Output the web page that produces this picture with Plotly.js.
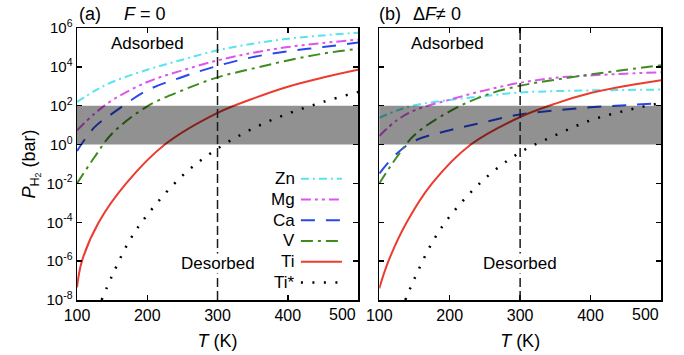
<!DOCTYPE html>
<html><head><meta charset="utf-8">
<script src="https://cdn.plot.ly/plotly-3.0.1.min.js"></script>
<style>html,body{margin:0;padding:0;background:#fff}#chart{width:684px;height:355px}</style>
</head><body><div id="chart"></div>
<script>
// ---------- data (log10 of P_H2 in bar) ----------
const names = ['Zn','Mg','Ca','V','Ti','Ti*'];
const T_grid = [100,125,150,200,250,300,350,400,450,500];

// panel (a)  F = 0
const a_Zn = [2.19,2.76,3.22,3.85,4.37,4.85,5.19,5.45,5.62,5.76];
const a_Mg = [0.73,1.59,2.28,3.22,3.82,4.33,4.72,5.02,5.23,5.40];
const a_Ca = [-0.33,0.90,1.59,2.79,3.48,4.05,4.50,4.80,5.02,5.25];
const a_V  = [-2.0,-0.64,0.57,1.97,2.79,3.46,3.91,4.33,4.68,4.93];
const T_a_Ti  = [100,107,131,170,225,300,350,400,450,500];
const a_Ti    = [-7.35,-6.0,-4.0,-2.0,0.0,1.63,2.36,2.98,3.45,3.85];
const T_a_TiS = [135,150,175,200,250,300,350,400,450,500];
const a_TiS   = [-8.0,-6.75,-4.92,-3.62,-1.6,-0.21,0.82,1.59,2.19,2.71];

// panel (b)  ΔF ≠ 0
const b_Zn = [1.38,1.75,2.02,2.30,2.50,2.68,2.75,2.79,2.81,2.83];
const b_Mg = [0.44,1.25,1.76,2.31,2.79,3.18,3.44,3.56,3.65,3.72];
const b_Ca = [-1.49,-0.46,0.19,0.74,1.16,1.55,1.76,1.92,2.03,2.12];
const b_V  = [-2.0,-0.64,0.49,1.71,2.53,3.03,3.34,3.61,3.85,4.08];
const T_b_Ti  = [100,113,139,175,230,300,350,400,450,500];
const b_Ti    = [-7.4,-6.0,-4.0,-2.0,0.0,1.42,2.11,2.65,3.02,3.31];
const T_b_TiS = [137,150,175,200,250,300,350,400,450,500];
const b_TiS   = [-8.0,-6.9,-5.05,-3.7,-1.75,-0.4,0.48,1.25,1.75,2.14];

const bandLow = 1, bandHigh = 100;   // bar
const T_room = 300;                   // K
const xTicks = [100,200,300,400,500];
const yTickExp = [-8,-6,-4,-2,0,2,4,6];

// ---------- styles ----------
const styles = {
  'Zn':  {color:'#58e4ee', dash:'8px,4px,2px,4px', width:2},
  'Mg':  {color:'#dc55ee', dash:'10px,4px,3px,4px,3px,4px', width:2},
  'Ca':  {color:'#2848ee', dash:'14px,11px', width:2},
  'V':   {color:'#3e8c1e', dash:'12px,5px,3px,5px', width:2},
  'Ti':  {color:'#ec3b2f', dash:'solid', width:2},
  'Ti*': {color:'#000000', dash:'2px,9.5px', width:2.5}
};

const toP = arr => arr.map(v => Math.pow(10, v));
const panelA = {Zn:[T_grid,a_Zn], Mg:[T_grid,a_Mg], Ca:[T_grid,a_Ca], V:[T_grid,a_V], Ti:[T_a_Ti,a_Ti], 'Ti*':[T_a_TiS,a_TiS]};
const panelB = {Zn:[T_grid,b_Zn], Mg:[T_grid,b_Mg], Ca:[T_grid,b_Ca], V:[T_grid,b_V], Ti:[T_b_Ti,b_Ti], 'Ti*':[T_b_TiS,b_TiS]};

const traces = [];
[[panelA,'x','y'],[panelB,'x2','y2']].forEach(([panel,xa,ya]) => {
  names.forEach(n => {
    const s = styles[n];
    traces.push({x: panel[n][0], y: toP(panel[n][1]), xaxis: xa, yaxis: ya,
      type:'scatter', mode:'lines', name:n, showlegend:false, hoverinfo:'skip',
      line:{color:s.color, dash:s.dash, width:s.width, shape:'spline', smoothing:1}});
  });
});

const FONT = '"Liberation Sans", Arial, Helvetica, sans-serif';
const axBase = {showline:true, linecolor:'#000', linewidth:1.5, mirror:'allticks',
  ticks:'inside', ticklen:5, tickwidth:1.5, tickcolor:'#000', showgrid:false, zeroline:false};

const yTickVals = yTickExp.map(e => Math.pow(10, e));
const yTickText = yTickExp.map(e => '10<sup>' + e + '</sup>');

const L = 77.3, R = 23.2, Tm = 27.6, B = 55;
const plotW = 684 - L - R;
const px2x = px => (px - L) / plotW;
const py2y = py => (355 - B - py) / (355 - Tm - B);

const xa = Object.assign({}, axBase, {range:[100,500], tickmode:'array', tickvals:xTicks,
  ticktext:xTicks.map(v => v === 500 ? '' : String(v)),
  tickfont:{size:16, family:FONT}, title:{text:'<i>T</i> (K)', font:{size:18, family:FONT}, standoff:11}});

const layout = {
  width:684, height:355, margin:{l:L, r:R, t:Tm, b:B}, showlegend:false,
  paper_bgcolor:'#fff', plot_bgcolor:'#fff', font:{family:FONT, size:16, color:'#000'},
  xaxis: Object.assign({}, xa, {domain:[0, px2x(358.1)], anchor:'y'}),
  xaxis2: Object.assign({}, xa, {domain:[px2x(379.3), 1], anchor:'y2'}),
  yaxis: Object.assign({}, axBase, {type:'log', range:[-8,6], tickmode:'array', tickvals:yTickVals, ticktext:yTickText,
    tickfont:{size:15, family:FONT}, anchor:'x',
    title:{text:'<i>P</i><sub>H<sub>2</sub></sub> (bar)', font:{size:18, family:FONT}, standoff:6}}),
  yaxis2: Object.assign({}, axBase, {type:'log', range:[-8,6], tickmode:'array', tickvals:yTickVals,
    showticklabels:false, anchor:'x2'}),
  shapes: [], annotations: []
};

// gray band and room-temperature line in each panel
[['x','y'],['x2','y2']].forEach(([xr,yr]) => {
  layout.shapes.push({type:'rect', layer:'above', xref:xr+' domain', yref:yr, x0:0, x1:1,
    y0:bandLow, y1:bandHigh, fillcolor:'rgba(0,0,0,0.43)', line:{width:0}});
  layout.shapes.push({type:'line', layer:'above', xref:xr, yref:yr+' domain', x0:T_room, x1:T_room, y0:0, y1:1,
    line:{color:'#1a1a1a', width:1.5, dash:'9px,4px'}});
});

// 500 labels right-aligned to the axis end
[['x'],['x2']].forEach(([xr]) => {
  layout.annotations.push({xref:xr, yref:'paper', x:500, y:0, xanchor:'right', yanchor:'top', yshift:-4,
    text:'500', showarrow:false, font:{size:16, family:FONT}});
});

const A = (text, x, y, opts) => Object.assign({text, x, y, xref:'paper', yref:'paper', showarrow:false,
  font:{size:17, family:FONT, color:'#000'}}, opts || {});

layout.annotations.push(A('(a)', px2x(77), py2y(14), {xanchor:'left', yanchor:'middle', font:{size:18, family:FONT}}));
layout.annotations.push(A('<i>F</i> = 0', px2x(122), py2y(14), {xanchor:'left', yanchor:'middle', font:{size:18, family:FONT}}));
layout.annotations.push(A('(b)', px2x(377), py2y(14), {xanchor:'left', yanchor:'middle', font:{size:18, family:FONT}}));
layout.annotations.push(A('Δ<i>F</i>≠ 0', px2x(411), py2y(14), {xanchor:'left', yanchor:'middle', font:{size:18, family:FONT}}));

layout.annotations.push(A('Adsorbed', 200, py2y(43), {xref:'x', xanchor:'center', yanchor:'middle'}));
layout.annotations.push(A('Adsorbed', 197, py2y(43), {xref:'x2', xanchor:'center', yanchor:'middle'}));
layout.annotations.push(A('Desorbed', T_room, py2y(263), {xref:'x', xanchor:'center', yanchor:'middle', bgcolor:'#fff', borderpad:0}));
layout.annotations.push(A('Desorbed', T_room, py2y(263), {xref:'x2', xanchor:'center', yanchor:'middle', bgcolor:'#fff', borderpad:0}));

// hand-built legend (text, then line sample on the right), inside panel (a)
names.forEach((n, i) => {
  const yc = 178.5 + 20.8 * i;
  const s = styles[n];
  layout.annotations.push(A(n, px2x(297), py2y(yc), {xanchor:'right', yanchor:'middle'}));
  layout.shapes.push({type:'line', xref:'paper', yref:'paper', x0:px2x(301), x1:px2x(342),
    y0:py2y(yc), y1:py2y(yc), line:{color:s.color, width:s.width, dash:s.dash}});
});

Plotly.newPlot('chart', traces, layout, {staticPlot:true, displayModeBar:false});
</script></body></html>
